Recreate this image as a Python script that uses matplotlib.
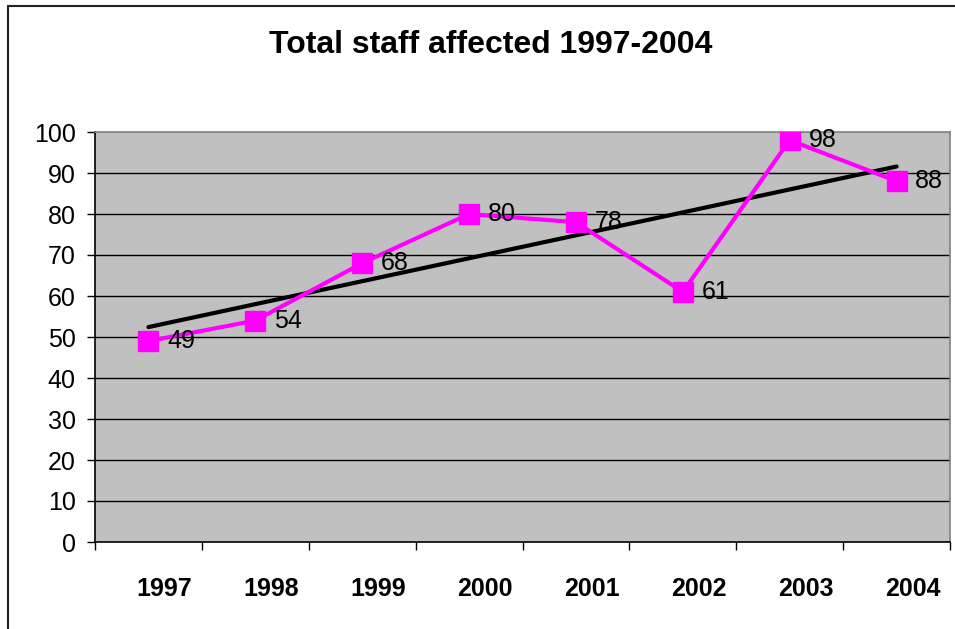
import matplotlib
matplotlib.use("Agg")
import matplotlib.pyplot as plt
import matplotlib.transforms as mtransforms
from matplotlib.patches import Rectangle
import numpy as np

years = ["1997", "1998", "1999", "2000", "2001", "2002", "2003", "2004"]
staff = [49, 54, 68, 80, 78, 61, 98, 88]
yticks = [0, 10, 20, 30, 40, 50, 60, 70, 80, 90, 100]

plt.rcParams['font.family'] = ['Liberation Sans', 'DejaVu Sans']

fig = plt.figure(figsize=(9.55, 6.29), dpi=100)
fig.patch.set_facecolor('white')
# outer chart border
fig.patches.append(Rectangle((8/955, -0.05), 1.2, 1 - 6/629 + 0.05, transform=fig.transFigure,
                             fill=False, edgecolor='#222222', linewidth=1.5))

ax = fig.add_axes([95/955, 1 - 542/629, (950 - 95)/955, (542 - 132)/629])
ax.set_facecolor('#C0C0C0')

x = np.arange(len(years))
ax.set_xlim(-0.5, len(years) - 0.5)
ax.set_ylim(0, 100)

for yv in yticks[1:-1]:
    ax.axhline(yv, color='black', linewidth=1.0, zorder=1)

# trendline
coef = np.polyfit(x, staff, 1)
ax.plot(x, np.polyval(coef, x), color='black', linewidth=3, zorder=2, solid_capstyle='round')

ax.plot(x, staff, color='#FF00FF', linewidth=3, marker='s', markersize=15,
        markerfacecolor='#FF00FF', markeredgecolor='#FF00FF', zorder=3)

for xi, v in zip(x, staff):
    ax.annotate(str(v), (xi, v), xytext=(13.5, 0), textcoords='offset points',
                ha='left', va='center', fontsize=18, color='black', zorder=4)

ax.set_yticks(yticks)
ax.set_yticklabels([str(t) for t in yticks], fontsize=18)
ax.set_xticks(np.arange(-0.5, len(years)))
ax.set_xticklabels([])
ax.set_xticks(x, minor=True)
ax.set_xticklabels(years, minor=True, fontsize=18, fontweight='bold')
ax.tick_params(axis='x', which='minor', length=0, pad=25)
ax.tick_params(axis='x', which='major', length=6, width=1, color='black', direction='out')
ax.tick_params(axis='y', length=6, width=1, color='black', direction='out', pad=8)

offset = mtransforms.ScaledTranslation(16/100, 0, fig.dpi_scale_trans)
for lbl in ax.xaxis.get_minorticklabels():
    lbl.set_transform(lbl.get_transform() + offset)

ax.spines['left'].set_color('black')
ax.spines['bottom'].set_color('black')
ax.spines['top'].set_color('#808080')
ax.spines['right'].set_color('#808080')
for s in ax.spines.values():
    s.set_linewidth(1.2)

fig.text(491/955, 1 - 45/629, "Total staff affected 1997-2004", ha='center', va='center',
         fontsize=23, fontweight='bold')

fig.savefig("out.png", dpi=100)
